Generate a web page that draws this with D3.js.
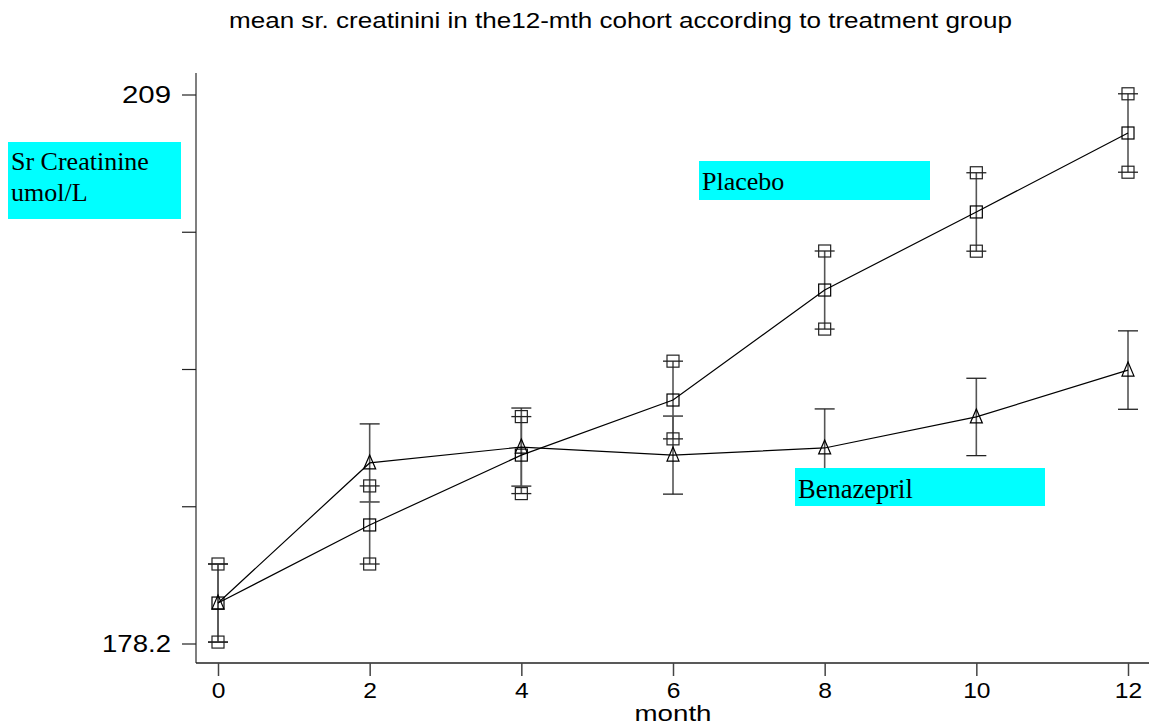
<!DOCTYPE html>
<html><head><meta charset="utf-8">
<script src="https://cdn.jsdelivr.net/npm/d3@7"></script>
<style>body{margin:0;background:#fff}svg{display:block}</style>
</head><body>
<script>
const months = [0, 2, 4, 6, 8, 10, 12];
const placeboMean = [180.47, 184.85, 188.77, 191.86, 198.03, 202.41, 206.84];
const placeboSE   = [2.19, 2.19, 2.16, 2.18, 2.19, 2.2, 2.2];
const benazMean   = [180.47, 188.33, 189.22, 188.77, 189.17, 190.91, 193.54];
const benazSE     = [2.19, 2.19, 2.19, 2.19, 2.19, 2.17, 2.2];
const yTicks = [178.2, 185.9, 193.6, 201.3, 209];
const yTickLabels = ["178.2", "", "", "", "209"];
const xTicks = [0, 2, 4, 6, 8, 10, 12];
const title = "mean sr. creatinini in the12-mth cohort according to treatment group";
const xTitle = "month";
const yTitle = ["Sr Creatinine", "umol/L"];

const W = 1149, H = 728;
const svg = d3.select("body").append("svg").attr("width", W).attr("height", H);
const x = d3.scaleLinear().domain([0, 12]).range([218, 1128]);
const y = d3.scaleLinear().domain([178.2, 209]).range([643.5, 94.5]);
const sans = "'Liberation Sans', Arial, sans-serif";
const serif = "'Liberation Serif', 'Times New Roman', serif";

// title
svg.append("text").attr("x", 229).attr("y", 28).attr("font-family", sans).attr("font-size", 22)
  .attr("textLength", 783).attr("lengthAdjust", "spacingAndGlyphs").text(title);

// axes lines
svg.append("line").attr("x1", 196).attr("x2", 196).attr("y1", 73).attr("y2", 663).attr("stroke", "#555").attr("stroke-width", 1.5);
svg.append("line").attr("x1", 196).attr("x2", 1149).attr("y1", 663).attr("y2", 663).attr("stroke", "#222").attr("stroke-width", 1.5);

// y ticks
const yAxis = d3.axisLeft(y).tickValues(yTicks).tickSize(14).tickFormat((d, i) => yTickLabels[i]);
const gy = svg.append("g").attr("transform", "translate(196,0)").call(yAxis);
gy.select(".domain").remove();
gy.selectAll(".tick line").attr("stroke", "#222").attr("stroke-width", 1.2);
gy.selectAll(".tick text").attr("font-family", sans).attr("font-size", 23).attr("fill", "#000")
  .attr("x", -25).attr("dy", "0.36em")
  .each(function(d, i){ const t = yTickLabels[i]; if (t) d3.select(this).attr("textLength", t === "209" ? 49 : 69).attr("lengthAdjust", "spacingAndGlyphs"); });

// x ticks
const xAxis = d3.axisBottom(x).tickValues(xTicks).tickSize(13).tickFormat(d3.format("d"));
const gx = svg.append("g").attr("transform", "translate(0,663)").call(xAxis);
gx.select(".domain").remove();
gx.selectAll(".tick line").attr("stroke", "#444").attr("stroke-width", 1.5);
gx.selectAll(".tick text").attr("font-family", sans).attr("font-size", 22).attr("fill", "#000")
  .attr("y", 19).attr("dy", "0.71em").style("transform", "scaleX(1.12)");

svg.append("text").attr("x", x(6)).attr("y", 721).attr("text-anchor", "middle")
  .attr("font-family", sans).attr("font-size", 22).attr("textLength", 77).attr("lengthAdjust", "spacingAndGlyphs").text(xTitle);

// data
const placebo = months.map((m, i) => ({m, v: placeboMean[i], se: placeboSE[i]}));
const benaz = months.map((m, i) => ({m, v: benazMean[i], se: benazSE[i]}));
const line = d3.line().x(d => x(d.m)).y(d => y(d.v));

const capW = 10, sq = 6;
function errBars(data, withSquares) {
  const g = svg.append("g");
  data.forEach(d => {
    const yl = y(d.v - d.se), yh = y(d.v + d.se), xc = x(d.m);
    g.append("line").attr("x1", xc).attr("x2", xc).attr("y1", yh).attr("y2", yl).attr("stroke", "#555").attr("stroke-width", 1.6);
    [yl, yh].forEach(yy => {
      g.append("line").attr("x1", xc - capW).attr("x2", xc + capW).attr("y1", yy).attr("y2", yy).attr("stroke", "#222").attr("stroke-width", 1.3);
      if (withSquares) g.append("rect").attr("x", xc - sq).attr("y", yy - sq).attr("width", 2 * sq).attr("height", 2 * sq)
        .attr("fill", "none").attr("stroke", "#222").attr("stroke-width", 1.2);
    });
  });
}
errBars(benaz, false);
errBars(placebo, true);

svg.append("path").datum(benaz).attr("d", line).attr("fill", "none").attr("stroke", "#000").attr("stroke-width", 1.2);
svg.append("path").datum(placebo).attr("d", line).attr("fill", "none").attr("stroke", "#000").attr("stroke-width", 1.2);

placebo.forEach(d => {
  svg.append("rect").attr("x", x(d.m) - sq).attr("y", y(d.v) - sq).attr("width", 2 * sq).attr("height", 2 * sq)
    .attr("fill", "none").attr("stroke", "#000").attr("stroke-width", 1.2);
});
benaz.forEach(d => {
  const xc = x(d.m), yc = y(d.v);
  svg.append("path").attr("d", `M${xc},${yc - 8}L${xc + 6},${yc + 6}L${xc - 6},${yc + 6}Z`)
    .attr("fill", "none").attr("stroke", "#000").attr("stroke-width", 1.2);
});

// label boxes (drawn on top)
function box(x0, y0, w, h) {
  svg.append("rect").attr("x", x0).attr("y", y0).attr("width", w).attr("height", h).attr("fill", "#00ffff");
}
box(8, 142, 173, 77);
svg.append("text").attr("x", 11).attr("y", 170).attr("font-family", serif).attr("font-size", 26).text(yTitle[0]);
svg.append("text").attr("x", 11).attr("y", 201).attr("font-family", serif).attr("font-size", 26).text(yTitle[1]);
box(699, 161, 231, 39);
svg.append("text").attr("x", 702).attr("y", 190).attr("font-family", serif).attr("font-size", 26).text("Placebo");
box(795, 468, 250, 38);
svg.append("text").attr("x", 798).attr("y", 498).attr("font-family", serif).attr("font-size", 26.5).text("Benazepril");
</script>
</body></html>
